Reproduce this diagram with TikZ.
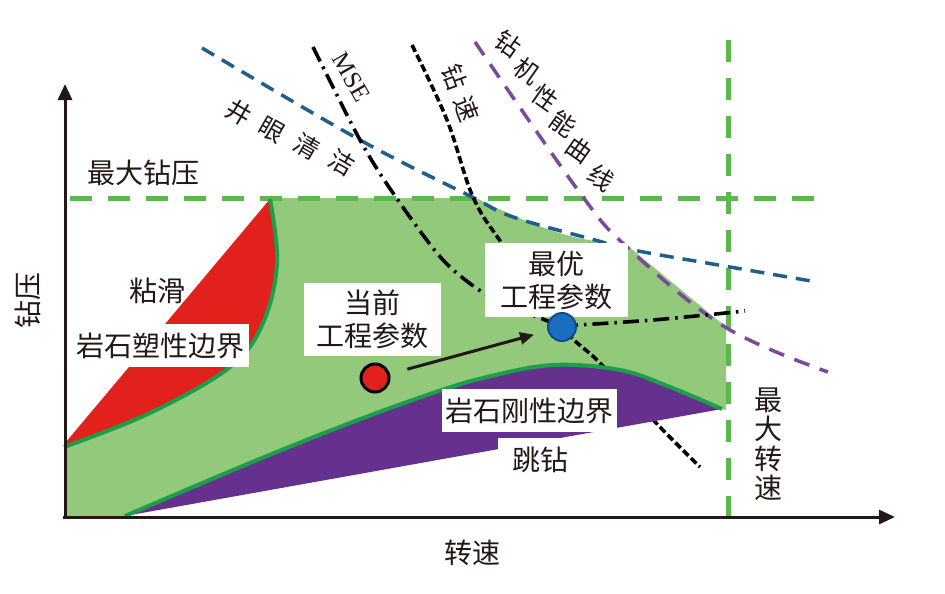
\documentclass[tikz,border=0pt]{standalone}
\usepackage{fontspec}
\setmainfont{Liberation Serif}
\newfontfamily\cjk{Noto Sans CJK SC}
\usetikzlibrary{arrows.meta}
\definecolor{fillgreen}{HTML}{93C97B}
\definecolor{edgegreen}{HTML}{1C9E4A}
\definecolor{maxgreen}{HTML}{5BB74E}
\definecolor{redzone}{HTML}{E3211C}
\definecolor{purplezone}{HTML}{66318E}
\definecolor{bluedash}{HTML}{1E5F8E}
\definecolor{purpledash}{HTML}{7B4A9F}
\definecolor{dotblue}{HTML}{1A6DBF}
\definecolor{dotblueedge}{HTML}{0E4C8C}
\definecolor{ink}{HTML}{231815}
\begin{document}
\begin{tikzpicture}[x=1pt,y=-1pt,
  lbl/.style={font=\cjk\fontsize{28}{33}\selectfont, text=ink, inner sep=0pt},
  slbl/.style={font=\cjk\fontsize{25}{30}\selectfont, text=ink, inner sep=0pt},
  wbox/.style={lbl, fill=white, align=center},
  maxline/.style={maxgreen, line width=5pt, dash pattern=on 22pt off 16pt},
  bluecurve/.style={bluedash, line width=3.5pt, dash pattern=on 14pt off 9pt},
  purplecurve/.style={purpledash, line width=3.5pt, dash pattern=on 16pt off 11pt},
  msedash/.style={black, line width=3.6pt, dash pattern=on 16pt off 6pt on 2.5pt off 6pt},
  ropdash/.style={black, line width=3.6pt, dash pattern=on 7.5pt off 3.5pt},
  boundary/.style={edgegreen, line width=4pt, line join=round},
  axis/.style={ink, line width=3pt, -{Triangle[length=16pt,width=14pt]}},
  reddot/.style={circle, fill=redzone, draw=black, line width=3pt, minimum size=28pt, inner sep=0pt},
  bluedot/.style={circle, fill=dotblue, draw=dotblueedge, line width=2pt, minimum size=28pt, inner sep=0pt}
]
\useasboundingbox (0,0) rectangle (945,594);
\fill[white] (0,0) rectangle (945,594);

% green feasible region
\fill[fillgreen] (272,198) -- (476,198) .. controls (525,222) and (560,236) .. (595,241) -- (628,246) -- (726,327) -- (726,410)
  -- plot[smooth,tension=0.6] coordinates {(722,409) (670,387) (620,370) (553,365) (487,377) (433,393) (350,423) (250,463) (125,516)}
  -- (66,516) -- (64,447)
  -- plot[smooth,tension=0.6] coordinates {(64,447) (150,413) (230,367) (263,323) (277,263) (270,199)} -- cycle;

% red stick-slip region
\fill[redzone] (66,442) -- (270,199)
  -- plot[smooth,tension=0.6] coordinates {(270,199) (277,263) (263,323) (230,367) (150,413) (64,447)} -- cycle;

% limit lines
\coordinate (wl) at (70,198);
\coordinate (wr) at (815,198);
\coordinate (rt) at (728,40);
\coordinate (rb) at (728,517);
\draw[maxline] (wl) -- (wr);
\draw[maxline] (rt) -- (rb);

% curves
\draw[bluecurve] plot[smooth,tension=0.6] coordinates {(202,48) (360,140) (470,196) (513,217) (595,240) (633,250) (730,267) (817,282)};
\draw[purplecurve] plot[smooth,tension=0.6] coordinates {(475,42) (580,193) (628,248) (725,327) (828,372)};
\draw[msedash] plot[smooth,tension=0.5] coordinates {(313,47) (360,140) (393,193) (443,260) (490,297) (540,318) (562,326)};
\draw[msedash] plot[smooth,tension=0.5] coordinates {(562,326) (653,320) (745,311)};
\draw[ropdash] plot[smooth,tension=0.6] coordinates {(412,45) (447,120) (473,197) (503,245) (562,327) (600,363) (660,427) (700,467)};

% purple bit-bounce region
\fill[purplezone] (125,516) -- (722,409)
  -- plot[smooth,tension=0.6] coordinates {(722,409) (670,387) (620,370) (553,365) (487,377) (433,393) (350,423) (250,463) (125,516)} -- cycle;

% boundaries
\draw[boundary] plot[smooth,tension=0.6] coordinates {(722,409) (670,387) (620,370) (553,365) (487,377) (433,393) (350,423) (250,463) (125,516)};
\draw[boundary] plot[smooth,tension=0.6] coordinates {(64,447) (150,413) (230,367) (263,323) (277,263) (270,199)};

% axes
\coordinate (O) at (65,517);
\coordinate (ytop) at (65,84);
\coordinate (xend) at (895,517);
\draw[axis] (65,519) -- (ytop);
\draw[axis] (63,517) -- (xend);

% axis and limit labels
\node[lbl] (wobmax) at (143,173) {最大钻压};
\node[lbl, rotate=90] (wob) at (28,300) {钻压};
\node[lbl] (rpm) at (472,553) {转速};
\node[lbl, align=center, font=\cjk\fontsize{28}{29.5}\selectfont] (rpmmax) at (768,444) {最\\大\\转\\速};

% curve labels
\node[font=\fontsize{25}{28}\selectfont, text=ink, inner sep=0pt, rotate=-60] (mse) at (351,77) {MSE};
\node[slbl, rotate=-70] (rop1) at (455,77) {钻};
\node[slbl, rotate=-70] (rop2) at (467,109) {速};
\node[slbl, rotate=-30] (hc1) at (239,113) {井};
\node[slbl, rotate=-30] (hc2) at (272,130) {眼};
\node[slbl, rotate=-30] (hc3) at (307,147) {清};
\node[slbl, rotate=-30] (hc4) at (342,163) {洁};
\node[slbl, rotate=-35] (rg1) at (508,44) {钻};
\node[slbl, rotate=-35] (rg2) at (527,71) {机};
\node[slbl, rotate=-35] (rg3) at (545,98) {性};
\node[slbl, rotate=-35] (rg4) at (563,124) {能};
\node[slbl, rotate=-35] (rg5) at (579,150) {曲};
\node[slbl, rotate=-35] (rg6) at (601,178) {线};

% region labels
\node[lbl] (stick) at (157,291) {粘滑};
\node[wbox, minimum width=178pt, minimum height=43pt] (plastic) at (160,345.5) {岩石塑性边界};
\node[wbox, minimum width=175pt, minimum height=43pt] (rigid) at (529.5,410.5) {岩石刚性边界};
\node[wbox, minimum width=84pt, minimum height=44pt] (jump) at (540,460) {跳钻};
\node[wbox, minimum width=137pt, minimum height=73pt] (curbox) at (372.5,319.5) {当前\\工程参数};
\node[wbox, minimum width=143pt, minimum height=74pt] (optbox) at (556.5,280) {最优\\工程参数};

% operating points
\node[reddot] (cur) at (375,378) {};
\node[bluedot] (opt) at (562,327) {};
\draw[ink, line width=3pt, -{Triangle[length=14pt,width=12pt]}, shorten <=18pt, shorten >=14pt] (cur) -- (opt);
\end{tikzpicture}
\end{document}
